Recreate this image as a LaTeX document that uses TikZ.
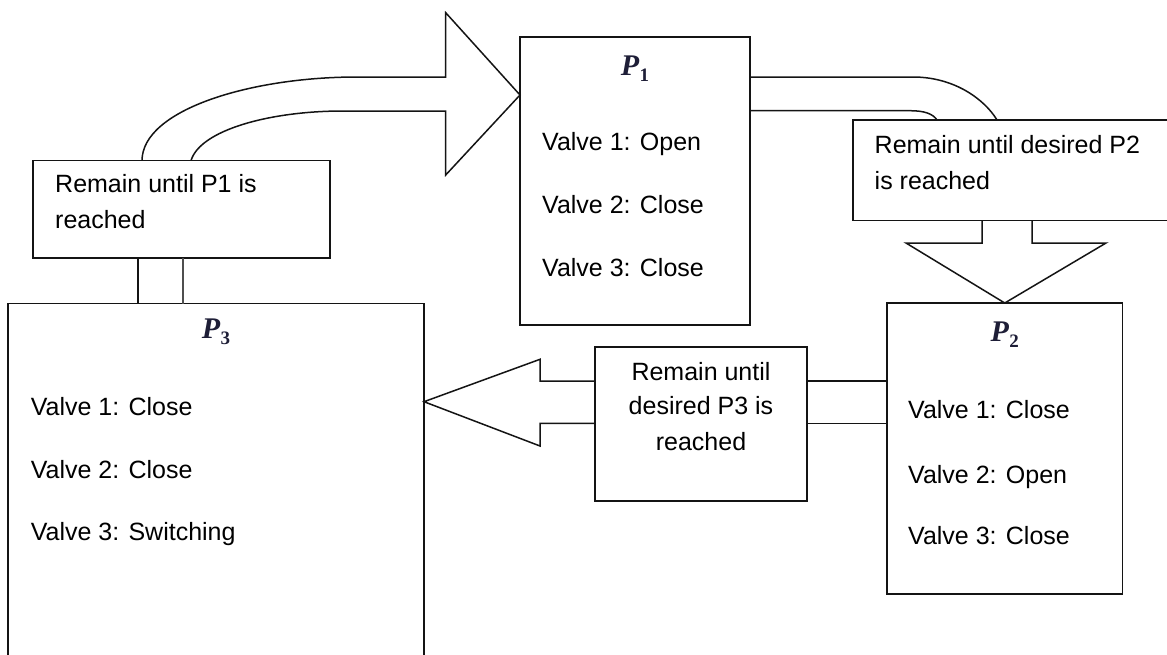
\documentclass[tikz,border=0pt]{standalone}
\usepackage{fontspec}
\setmainfont{Liberation Sans}
\newfontfamily\pfont{Liberation Serif}
\usetikzlibrary{calc}
\definecolor{ln}{RGB}{20,20,20}
\definecolor{plab}{RGB}{30,30,55}
\newcommand{\plabtext}[1]{{\fontsize{30}{32}\selectfont\pfont\bfseries\itshape P}\hspace{0.5pt}\raisebox{-6pt}{\fontsize{19}{20}\selectfont\pfont\bfseries #1}}
\begin{document}
\begin{tikzpicture}[x=1pt,y=-1pt,
  box/.style={draw=ln,line width=1.5pt,inner sep=0pt,outer sep=0pt,anchor=north west},
  txt/.style={anchor=base west,inner sep=0pt,font=\fontsize{25}{30}\selectfont},
  ctxt/.style={anchor=base,inner sep=0pt,font=\fontsize{25}{30}\selectfont},
  plabel/.style={inner sep=0pt,anchor=base,text=plab},
  arr/.style={draw=ln,line width=1.5pt,line join=miter}]
\useasboundingbox (0,0) rectangle (1167,654);
\clip (0,0) rectangle (1167,654);
\fill[white] (0,0) rectangle (1167,654);

% boxes
\node[box,minimum width=230pt,minimum height=288pt] (p1) at (520,37) {};
\node[box,minimum width=297pt,minimum height=97.3pt] (lbox) at (33,160.7) {};
\node[box,minimum width=360pt,minimum height=100.7pt] (rbox) at (853,120) {};
\node[box,minimum width=235.5pt,minimum height=291pt] (p2) at (887,303) {};
\node[box,minimum width=212pt,minimum height=154pt] (mbox) at (595,347) {};
\node[box,minimum width=416pt,minimum height=420pt] (p3) at (8,303.5) {};

% labels
\node[plabel] (p1l) at ($(p1.north)+(0,38)$) {\plabtext{1}};
\node[plabel] (p2l) at ($(p2.north)+(0,38)$) {\plabtext{2}};
\node[plabel] (p3l) at ($(p3.north)+(0,35)$) {\plabtext{3}};

% P1 text
\node[txt] (p1a) at ($(p1.north west)+(22,113)$) {Valve 1: Open};
\node[txt] (p1b) at ($(p1.north west)+(22,176)$) {Valve 2: Close};
\node[txt] (p1c) at ($(p1.north west)+(22,239)$) {Valve 3: Close};
% P2 text
\node[txt] (p2a) at ($(p2.north west)+(21,115)$) {Valve 1: Close};
\node[txt] (p2b) at ($(p2.north west)+(21,180)$) {Valve 2: Open};
\node[txt] (p2c) at ($(p2.north west)+(21,241)$) {Valve 3: Close};
% P3 text
\node[txt] (p3a) at ($(p3.north west)+(22.6,111.5)$) {Valve 1: Close};
\node[txt] (p3b) at ($(p3.north west)+(22.6,174.5)$) {Valve 2: Close};
\node[txt] (p3c) at ($(p3.north west)+(22.6,237)$) {Valve 3: Switching};
% condition boxes text
\node[txt] (la) at ($(lbox.north west)+(22,31.3)$) {Remain until P1 is};
\node[txt] (lb) at ($(lbox.north west)+(22,67.3)$) {reached};
\node[txt] (ra) at ($(rbox.north west)+(21.5,33.5)$) {Remain until desired P2};
\node[txt] (rb) at ($(rbox.north west)+(21.5,69)$) {is reached};
\node[ctxt] (ma) at ($(mbox.north)+(0,33)$) {Remain until};
\node[ctxt] (mb) at ($(mbox.north)+(0,67)$) {desired P3 is};
\node[ctxt] (mc) at ($(mbox.north)+(0,103)$) {reached};

% arrow: left box -> P1
\coordinate (a1o) at ($(lbox.north west)+(109,0)$);
\coordinate (a1i) at ($(lbox.north west)+(158,0)$);
\coordinate (a1t) at ($(p1.north west)+(0,58)$);
\draw[arr] (a1o) .. controls (142,110) and (250,77) .. (357,77) -- (445.7,77)
  -- (445.7,12.7) -- (a1t) -- (445.7,175) -- (445.7,111) -- (343,111)
  .. controls (270,111) and (200,130) .. (a1i);

% arrow: P1 -> right box
\coordinate (a2o) at ($(p1.north east)+(0,40)$);
\coordinate (a2i) at ($(p1.north east)+(0,73.7)$);
\coordinate (a2oe) at ($(rbox.north west)+(144,0)$);
\coordinate (a2ie) at ($(rbox.north west)+(84,0)$);
\draw[arr] (a2o) -- (913,77) .. controls (955,77) and (985,100) .. (a2oe);
\draw[arr] (a2i) -- (910,110.7) .. controls (925,110.7) and (933,114) .. (a2ie);

% arrow: right box -> P2
\coordinate (a3l) at ($(rbox.south west)+(129,0)$);
\coordinate (a3r) at ($(rbox.south west)+(179,0)$);
\draw[arr] (a3l) -- (982,243) -- (906,243) -- (p2.north) -- (1106,243) -- (1032,243) -- (a3r);

% arrow: P2 -> middle box -> P3
\coordinate (a5t) at ($(p2.north west)+(0,78)$);
\coordinate (a5b) at ($(p2.north west)+(0,120.3)$);
\coordinate (a5ts) at ($(mbox.north east)+(0,34)$);
\coordinate (a5bs) at ($(mbox.north east)+(0,76.3)$);
\draw[arr] (a5t) -- (a5ts);
\draw[arr] (a5b) -- (a5bs);
\coordinate (a4t) at ($(mbox.north west)+(0,34)$);
\coordinate (a4b) at ($(mbox.north west)+(0,76.3)$);
\coordinate (a4tip) at ($(p3.north east)+(0,98.2)$);
\draw[arr] (a4t) -- (540,381) -- (540,359.3) -- (a4tip) -- (540,446) -- (540,423.3) -- (a4b);

% connector: P3 -> left box
\coordinate (c1a) at ($(p3.north west)+(130,0)$);
\coordinate (c1b) at ($(p3.north west)+(175,0)$);
\coordinate (c1c) at ($(lbox.south west)+(105,0)$);
\coordinate (c1d) at ($(lbox.south west)+(150,0)$);
\draw[arr] (c1a) -- (c1c);
\draw[arr,draw=ln!75] (c1b) -- (c1d);
\end{tikzpicture}
\end{document}
